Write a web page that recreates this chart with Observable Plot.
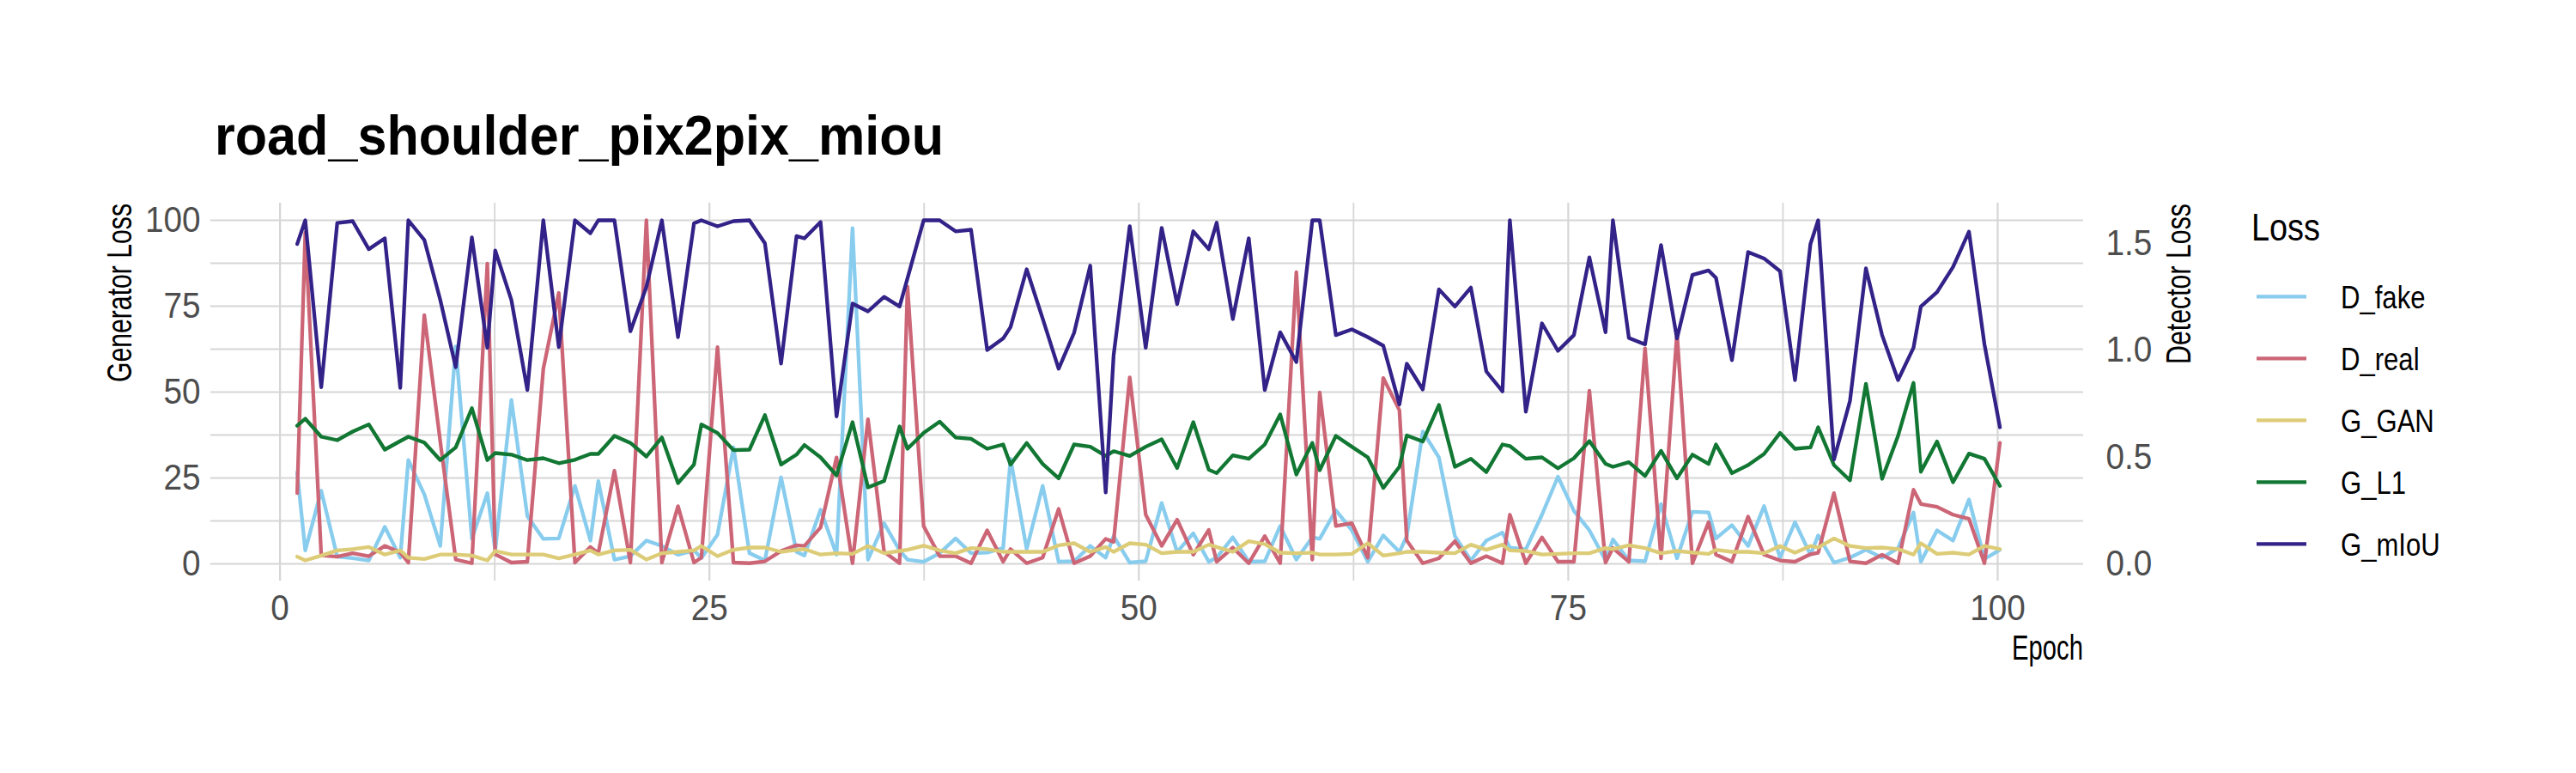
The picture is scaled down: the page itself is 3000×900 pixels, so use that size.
<!DOCTYPE html>
<html><head><meta charset="utf-8">
<script src="https://cdn.jsdelivr.net/npm/d3@7"></script>
<script src="https://cdn.jsdelivr.net/npm/@observablehq/plot@0.6"></script>
<style>
html,body{margin:0;padding:0;background:#fff;}
#wrap{position:relative;width:3000px;height:900px;overflow:hidden;}
#wrap svg{position:absolute;left:0;top:0;}
</style></head><body><div id="wrap"></div>
<script>
// ---- data ----
const epoch = [1.0,1.47,2.4,3.33,4.23,5.17,6.1,7.0,7.47,8.4,9.33,10.23,11.17,12.07,12.53,13.47,14.4,15.33,16.23,17.17,
18.07,18.53,19.47,20.4,21.33,22.23,23.17,24.1,24.53,25.47,26.4,27.33,28.23,29.17,30.07,30.53,31.47,32.4,33.33,34.23,35.17,
36.07,36.53,37.47,38.4,39.33,40.23,41.17,42.1,42.53,43.47,44.4,45.33,46.23,47.17,48.07,48.53,49.47,50.4,51.33,52.23,53.17,
54.07,54.53,55.47,56.4,57.33,58.23,59.17,60.1,60.53,61.47,62.4,63.33,64.23,65.17,65.6,66.53,67.47,68.4,69.33,70.23,71.17,
71.6,72.53,73.47,74.4,75.33,76.23,77.17,77.6,78.53,79.47,80.4,81.33,82.23,83.17,83.6,84.53,85.47,86.4,87.33,88.2,
89.1,89.55,90.47,91.4,92.33,93.27,94.2,95.1,95.53,96.47,97.4,98.33,99.23,100.13];

// Generator losses (left axis)
const G_mIoU = [93.1,100,51.4,99.2,99.75,91.6,94.75,51.25,100,94.3,76.8,57.25,95,62.9,91.2,76.8,50.6,100,63.1,100,
96.25,100,100,67.7,80.6,100,66,99.1,100,98.25,99.75,100,93.3,58.3,95.4,94.75,99.5,42.9,75.75,73.5,77.7,
74.9,83.1,100,100,96.8,97.25,62.25,65.6,68.9,85.75,71.4,56.8,67.25,86.8,20.8,60.6,98.3,62.9,97.8,75.6,96.8,
91.6,99.3,71.25,94.75,50.6,67.4,58.75,100,100,66.6,68.25,66,63.5,46.4,58.25,50.75,79.9,74.9,80.4,56,50.2,
100,44.3,70,62,66.6,89.2,67.4,100,65.75,63.9,92.8,65.6,84.1,85.4,83.25,59.3,90.75,88.9,85.2,53.5,
93.1,100,30.4,47.4,86,66.6,53.5,62.9,74.9,79.1,86.4,96.7,63.9,39.75];

const G_L1 = [40.2,42.25,37.0,36.0,38.5,40.6,33.25,35.75,37.0,35.3,30.2,33.9,45.3,30.2,32.25,31.8,30.2,30.75,29.3,30.3,
32,32,37.25,35.2,31.25,36.8,23.5,28.9,40.6,38.1,33.1,33.25,43.3,28.9,31.8,34.6,31.0,25.75,41.25,22.25,24.1,
40,33.5,38.1,41.4,36.8,36.4,33.5,34.75,28.9,35.2,29.1,24.9,34.75,34.1,31.4,32.8,31.4,34.1,36.25,27.9,41.25,
27.4,26.4,31.6,30.6,34.75,43.5,26,35.2,27.25,37.25,34.1,31,22.1,28.25,37.4,35.6,46.25,28.25,30.6,26.7,34.75,
34.3,30.6,31,27.8,30.75,35.75,29.1,28.25,29.6,25.6,32.9,24.9,31.8,29.1,34.75,26.4,28.75,32,38.1,33.5,
33.9,39.75,28.75,24.3,52.4,24.75,37.25,52.7,26.8,35.6,23.75,32.1,30.6,22.7];

const G_GAN = [2.1,1.0,2.4,3.9,4.3,4.9,2.7,3.9,1.8,1.4,2.7,2.7,2.4,1.0,3.75,2.7,2.7,2.7,1.6,2.7,
3.9,2.7,3.9,4.1,1.25,3.1,3.5,3.9,5.2,2.25,4.1,4.75,4.75,3.5,4.1,4.3,2.7,3.1,2.9,5.2,3.1,
3.75,4.1,5.3,3.9,3.1,4.6,4.3,3.5,3.5,3.5,3.5,5.4,6.0,3.5,4.9,3.5,6.0,5.6,3.1,3.5,3.5,
5.6,4.9,3.5,6.6,5.75,3.25,3.1,3.25,2.7,2.7,2.9,6.0,2.4,3.1,3.5,3.5,3.25,3.1,5.6,4.1,5.6,
3.9,3.75,2.7,2.9,3.1,3.1,4.6,4.3,5.4,4.6,3.1,3.75,3.3,2.9,4.1,3.5,3.5,3.1,5.2,3.25,
5.2,4.75,7.4,5.2,4.6,4.75,4.3,2.7,6,2.9,3.25,2.7,5.2,4.3];

// Detector losses (right axis)
const D_real = [0.331,1.550,0.040,0.034,0.050,0.036,0.084,0.053,0.006,1.164,0.572,0.020,0.003,1.405,0.045,0.006,0.010,0.913,1.268,0.006,
0.079,0.050,0.436,0.006,1.608,0.006,0.270,0.006,0.029,1.014,0.006,0.003,0.012,0.060,0.087,0.084,0.170,0.498,0.003,0.677,0.056,
0.003,1.298,0.177,0.036,0.036,0.003,0.157,0.010,0.069,0.003,0.029,0.257,0.003,0.036,0.117,0.103,0.873,0.230,0.084,0.207,0.043,
0.159,0.010,0.076,0.003,0.130,0.003,1.365,0.020,0.802,0.177,0.190,0.029,0.870,0.719,0.109,0.003,0.026,0.106,0.003,0.036,0.003,
0.230,0.003,0.124,0.010,0.010,0.810,0.006,0.074,0.010,1.008,0.026,1.081,0.003,0.195,0.043,0.010,0.221,0.043,0.016,0.010,
0.045,0.052,0.331,0.012,0.003,0.043,0.003,0.347,0.280,0.267,0.230,0.211,0.003,0.566];

const D_fake = [0.428,0.063,0.342,0.034,0.027,0.016,0.173,0.029,0.486,0.325,0.084,1.017,0.117,0.331,0.063,0.767,0.223,0.117,0.119,0.365,
0.109,0.387,0.020,0.036,0.109,0.084,0.043,0.063,0.027,0.137,0.545,0.050,0.016,0.405,0.056,0.039,0.253,0.043,1.571,0.020,0.190,
0.063,0.020,0.010,0.050,0.119,0.050,0.053,0.074,0.492,0.069,0.365,0.010,0.012,0.084,0.029,0.130,0.006,0.012,0.285,0.056,0.143,
0.010,0.029,0.124,0.010,0.012,0.177,0.020,0.124,0.117,0.251,0.157,0.010,0.133,0.056,0.130,0.619,0.498,0.130,0.016,0.109,0.146,
0.076,0.068,0.230,0.408,0.248,0.157,0.016,0.114,0.016,0.012,0.280,0.026,0.244,0.241,0.119,0.181,0.084,0.270,0.029,0.195,
0.043,0.133,0.006,0.029,0.066,0.029,0.074,0.240,0.010,0.157,0.109,0.301,0.023,0.066];

const seriesNames = ["D_fake","D_real","G_GAN","G_L1","G_mIoU"];
const seriesColors = ["#88CCEE","#CC6677","#DDCC77","#117733","#332288"];
const xTicks = [0,25,50,75,100];
const xMinor = [12.5,37.5,62.5,87.5];
const yTicks = [0,25,50,75,100];
const yMinor = [12.5,37.5,62.5,87.5];
const detTicks = [0,0.5,1.0,1.5];
const K = 62.2; // detector -> generator axis factor

const seriesData = {D_fake, D_real, G_GAN, G_L1, G_mIoU};
const detector = new Set(["D_fake","D_real"]);
const rows = [];
for (const s of seriesNames) {
  seriesData[s].forEach((v, i) => rows.push({epoch: epoch[i], series: s, value: detector.has(s) ? v * K : v}));
}

const FONT = "Liberation Sans, Arial, Helvetica, sans-serif";
const gridStyle = {stroke: "#d6d6d6", strokeOpacity: 1, strokeWidth: 2.2};

const chart = Plot.plot({
  width: 3000, height: 900,
  marginLeft: 245, marginRight: 574, marginTop: 236, marginBottom: 224,
  x: {domain: [-4.03, 105.0]},
  y: {domain: [-5, 105]},
  color: {domain: seriesNames, range: seriesColors},
  style: {fontFamily: FONT, background: "white"},
  marks: [
    Plot.gridY(yMinor, {...gridStyle, strokeWidth: 1.8}),
    Plot.gridX(xMinor, {...gridStyle, strokeWidth: 1.8}),
    Plot.gridY(yTicks, gridStyle),
    Plot.gridX(xTicks, gridStyle),
    Plot.line(rows, {x: "epoch", y: "value", z: "series", stroke: "series", strokeWidth: 4.3, strokeLinejoin: "round"}),
    Plot.axisY(yTicks, {anchor: "left", tickSize: 0, tickPadding: 12, fontSize: 43, color: "#4d4d4d", label: null}),
    Plot.axisY(detTicks.map(d => d * K), {anchor: "right", tickSize: 0, tickPadding: 26, fontSize: 43, color: "#4d4d4d", label: null,
      tickFormat: d => (d / K).toFixed(1)}),
    Plot.axisX(xTicks, {anchor: "bottom", tickSize: 0, tickPadding: 15, fontSize: 43, color: "#4d4d4d", label: null})
  ]
});
const wrap = document.getElementById("wrap");
wrap.appendChild(chart);

function squeeze(sel, target) {
  const n = sel.node();
  const w = n.getComputedTextLength();
  const t = target < 2 ? w * target : target;
  sel.attr("textLength", t).attr("lengthAdjust", "spacingAndGlyphs");
}

// narrow the tick labels like the reference's condensed face
d3.select(chart).selectAll("g[aria-label$='tick label'] text").each(function () { squeeze(d3.select(this), 0.9); });

// ---- overlay: title, axis titles, legend ----
const ov = d3.select(wrap).append("svg")
  .attr("width", 3000).attr("height", 900)
  .style("font-family", FONT).style("pointer-events", "none");

squeeze(ov.append("text").attr("x", 250).attr("y", 180).attr("font-size", 64).attr("font-weight", "bold")
  .attr("fill", "#000").text("road_shoulder_pix2pix_miou"), 849);

squeeze(ov.append("text").attr("transform", "translate(153,445) rotate(-90)").attr("font-size", 40)
  .attr("fill", "#000").text("Generator Loss"), 208);

squeeze(ov.append("text").attr("transform", "translate(2551,424) rotate(-90)").attr("font-size", 40)
  .attr("fill", "#000").text("Detector Loss"), 187);

squeeze(ov.append("text").attr("x", 2343).attr("y", 768).attr("font-size", 40)
  .attr("fill", "#000").text("Epoch"), 83);

squeeze(ov.append("text").attr("x", 2622).attr("y", 280).attr("font-size", 45)
  .attr("fill", "#000").text("Loss"), 80);

seriesNames.forEach((s, i) => {
  const cy = 345.3 + 72 * i;
  ov.append("line").attr("x1", 2628).attr("x2", 2686).attr("y1", cy).attr("y2", cy)
    .attr("stroke", seriesColors[i]).attr("stroke-width", 4.3);
  squeeze(ov.append("text").attr("x", 2726).attr("y", cy + 14).attr("font-size", 37)
    .attr("fill", "#000").text(s), 0.84);
});
</script></body></html>
